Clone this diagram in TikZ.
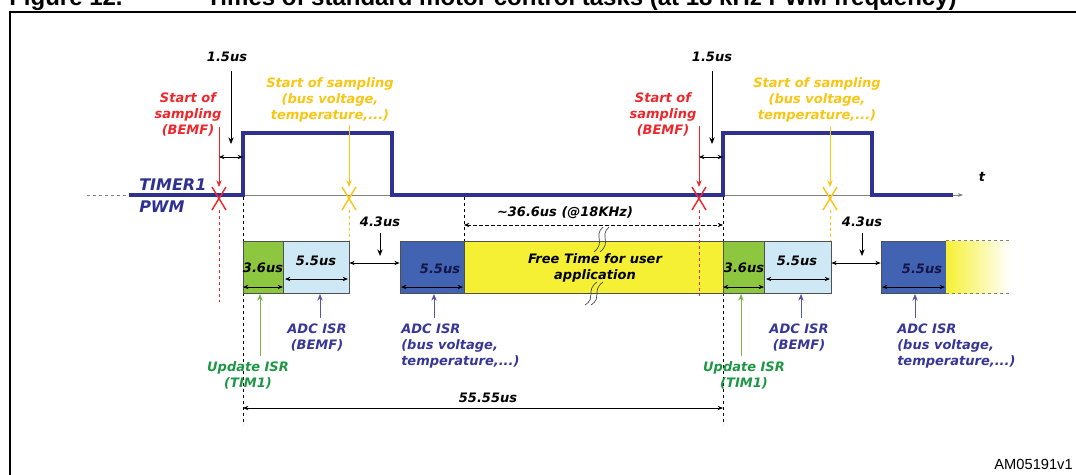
\documentclass[tikz,border=0pt]{standalone}
\usepackage{fontspec}
\setmainfont{DejaVu Sans}[BoldFont={DejaVu Sans Bold},ItalicFont={DejaVu Sans Oblique},BoldItalicFont={DejaVu Sans Bold Oblique}]
\newfontfamily\arialf{Liberation Sans}
\usetikzlibrary{arrows.meta,fit}
\definecolor{navy}{RGB}{46,49,146}
\definecolor{sred}{RGB}{237,40,45}
\definecolor{syel}{RGB}{250,198,20}
\definecolor{gbox}{RGB}{141,198,63}
\definecolor{lbbox}{RGB}{206,233,245}
\definecolor{dbbox}{RGB}{66,98,178}
\definecolor{ybox}{RGB}{246,240,52}
\definecolor{gtxt}{RGB}{30,150,70}
\definecolor{garr}{RGB}{120,180,70}
\definecolor{btxt}{RGB}{55,55,150}
\definecolor{barr}{RGB}{85,85,175}
\definecolor{dbtxt}{RGB}{20,22,70}
\begin{document}
\begin{tikzpicture}[x=0.75pt,y=-0.75pt,
  lbl/.style={font=\fontsize{9.75}{12}\selectfont\bfseries\itshape, align=center, inner sep=0pt},
  box/.style={draw={rgb,255:red,80;green,80;blue,80}, line width=0.5pt, inner sep=0pt},
  pwm/.style={draw=navy, line width=3pt, line join=miter, line cap=butt},
  dimarr/.style={{Stealth[length=4pt,width=3.2pt]}-{Stealth[length=4pt,width=3.2pt]}, line width=0.6pt, black},
  downarr/.style={-{Stealth[length=5pt,width=4pt]}, line width=0.6pt},
  vdash/.style={dash pattern=on 2.5pt off 2pt, line width=0.5pt},
  xmark/.style={line width=1.1pt}
]
\clip (0,0) rectangle (1076,475);
\fill[white] (0,0) rectangle (1076,475);

% title (cut off by page top) and frame
\node[anchor=base west, inner sep=0pt, font=\arialf\bfseries\fontsize{18}{20}\selectfont] (fig) at (9,5.5) {Figure 12.};
\node[anchor=base west, inner sep=0pt, font=\arialf\bfseries\fontsize{18}{20}\selectfont] (ttl) at (206,5.5) {Times of standard motor control tasks (at 18 kHz PWM frequency)};
\draw[line width=1.6pt] (10,500) -- (10,12) -- (1100,12);

% timeline base
\coordinate (b0) at (87,195);
\coordinate (b1) at (129,195);
\coordinate (bend) at (963,195);
\draw[vdash, gray] (b0) -- (b1);
\draw[gray, line width=0.5pt, -{Stealth[length=4pt,width=3pt]}] (b1) -- (bend);

% PWM waveform
\coordinate (p0) at (129,195);
\coordinate (p1) at (243,195);
\coordinate (p2) at (243,133);
\coordinate (p3) at (392,133);
\coordinate (p4) at (392,195);
\coordinate (p5) at (723,195);
\coordinate (p6) at (723,133);
\coordinate (p7) at (872,133);
\coordinate (p8) at (872,195);
\coordinate (p9) at (953,195);
\draw[pwm] (p0) -- (p1) -- (p2) -- (p3) -- (p4) -- (p5) -- (p6) -- (p7) -- (p8) -- (p9);

\node[font=\fontsize{12}{14}\selectfont\bfseries\itshape, text=navy, anchor=west, inner sep=0pt] (tmr) at (139,185) {TIMER1};
\node[font=\fontsize{12}{14}\selectfont\bfseries\itshape, text=navy, anchor=west, inner sep=0pt] (pwmt) at (139,207) {PWM};
\node[lbl] (tt) at (982,177) {t};

% vertical dashed guides
\coordinate (v1t) at (243,197); \coordinate (v1b) at (243,425);
\coordinate (v2t) at (464,197); \coordinate (v2b) at (464,241);
\coordinate (v3t) at (723,197); \coordinate (v3b) at (723,425);
\draw[vdash] (v1t) -- (v1b);
\draw[vdash] (v2t) -- (v2b);
\draw[vdash] (v3t) -- (v3b);

% boxes
\node[box, fill=gbox, fit={(243,241)(283,293)}] (g1) {};
\node[box, fill=lbbox, fit={(283,241)(349,293)}] (lb1) {};
\node[box, fill=dbbox, fit={(400,241)(464,293)}] (db1) {};
\node[box, fill=ybox, fit={(464,241)(723,293)}] (yb) {};
\node[box, fill=gbox, fit={(723,241)(764,293)}] (g2) {};
\node[box, fill=lbbox, fit={(764,241)(831,293)}] (lb2) {};
\node[box, fill=dbbox, fit={(881,241)(946,293)}] (db2) {};
\shade[left color=ybox, right color=white] (946,241) rectangle (1010,293);
\node[inner sep=0pt, fit={(946,241)(1010,293)}] (yfade) {};
\draw[vdash, gray] (yfade.north west) -- (yfade.north east);
\draw[vdash, gray] (yfade.south west) -- (yfade.south east);

% red BEMF sampling
\node[lbl, text=sred] (r1) at (188,114) {Start of\\sampling\\(BEMF)};
\node[lbl, text=sred] (r2) at (663,114) {Start of\\sampling\\(BEMF)};
\coordinate (r1a) at (219,127); \coordinate (r1x) at (219,187); \coordinate (r1d) at (219,210); \coordinate (r1e) at (219,302);
\coordinate (r2a) at (699,126); \coordinate (r2x) at (699,187); \coordinate (r2d) at (699,210); \coordinate (r2e) at (699,296);
\draw[downarr, sred] (r1a) -- (r1x);
\draw[downarr, sred] (r2a) -- (r2x);
\draw[vdash, sred] (r1d) -- (r1e);
\draw[vdash, sred] (r2d) -- (r2e);
\draw[xmark, sred] (212,187) -- (226,210) (226,187) -- (212,210);
\draw[xmark, sred] (692,187) -- (706,210) (706,187) -- (692,210);

% yellow sampling
\node[lbl, text=syel] (y1) at (330,100) {Start of sampling\\(bus voltage,\\temperature,...)};
\node[lbl, text=syel] (y2) at (817,100) {Start of sampling\\(bus voltage,\\temperature,...)};
\coordinate (y1a) at (349,125); \coordinate (y1x) at (349,187); \coordinate (y1d) at (349,210); \coordinate (y1e) at (349,241);
\coordinate (y2a) at (830,127); \coordinate (y2x) at (830,187); \coordinate (y2d) at (830,210); \coordinate (y2e) at (830,241);
\draw[downarr, syel] (y1a) -- (y1x);
\draw[downarr, syel] (y2a) -- (y2x);
\draw[vdash, syel] (y1d) -- (y1e);
\draw[vdash, syel] (y2d) -- (y2e);
\draw[xmark, syel] (342,187) -- (356,210) (356,187) -- (342,210);
\draw[xmark, syel] (823,187) -- (837,210) (837,187) -- (823,210);

% 1.5us
\node[lbl] (d1) at (227,57) {1.5us};
\node[lbl] (d2) at (712,57) {1.5us};
\coordinate (d1a) at (231,71); \coordinate (d1b) at (231,144);
\coordinate (d2a) at (712,71); \coordinate (d2b) at (712,144);
\draw[downarr] (d1a) -- (d1b);
\draw[downarr] (d2a) -- (d2b);
\coordinate (h1a) at (219,157); \coordinate (h1b) at (243,157);
\coordinate (h2a) at (699,157); \coordinate (h2b) at (723,157);
\draw[dimarr] (h1a) -- (h1b);
\draw[dimarr] (h2a) -- (h2b);

% box texts and dimension arrows
\node[lbl] (t36a) at (263,268) {3.6us};
\node[lbl] (t55a) at (316,261) {5.5us};
\node[lbl, text=dbtxt] (t55b) at (440,269) {5.5us};
\node[lbl] (t36b) at (744,268) {3.6us};
\node[lbl] (t55c) at (797,261) {5.5us};
\node[lbl, text=dbtxt] (t55d) at (922,269) {5.5us};
\draw[dimarr] (243,287) -- (283,287);
\draw[dimarr] (285,279) -- (348,279);
\draw[dimarr] (401,287) -- (463,287);
\draw[dimarr] (723,287) -- (764,287);
\draw[dimarr] (766,279) -- (830,279);
\draw[dimarr] (882,287) -- (945,287);

% 4.3us
\node[lbl] (f1) at (380,222) {4.3us};
\node[lbl] (f2) at (862,222) {4.3us};
\draw[downarr] (380,233) -- (380,256);
\draw[downarr] (862,233) -- (862,256);
\draw[dimarr] (lb1.east |- 0,263) -- (db1.west |- 0,263);
\draw[dimarr] (lb2.east |- 0,263) -- (db2.west |- 0,263);

% free time
\node[lbl, font=\fontsize{9.75}{11.5}\selectfont\bfseries\itshape] (free) at (595,268) {Free Time for user\\application};
\node[lbl] (t366) at (565,213) {\textasciitilde36.6us (@18KHz)};
\draw[dimarr, vdash] (v2t |- 0,225) -- (v3t |- 0,225);
\draw[line width=0.5pt, black!75] (603,227) .. controls (593,236) and (606,242) .. (594,252);
\draw[line width=0.5pt, black!75] (609,227) .. controls (599,236) and (612,242) .. (600,252);
\draw[line width=0.5pt, black!75] (597,282) .. controls (585,291) and (597,297) .. (585,305);
\draw[line width=0.5pt, black!75] (603,282) .. controls (591,291) and (603,297) .. (591,305);

% bottom labels
\node[lbl, text=gtxt] (u1) at (248,375) {Update ISR\\(TIM1)};
\node[lbl, text=gtxt] (u2) at (744,375) {Update ISR\\(TIM1)};
\node[lbl, text=btxt] (a1) at (317,338) {ADC ISR\\(BEMF)};
\node[lbl, text=btxt] (a2) at (799,338) {ADC ISR\\(BEMF)};
\node[lbl, text=btxt, align=left, anchor=west] (a3) at (401,346) {ADC ISR\\(bus voltage,\\temperature,...)};
\node[lbl, text=btxt, align=left, anchor=west] (a4) at (897,346) {ADC ISR\\(bus voltage,\\temperature,...)};
\draw[downarr, garr] (260,356) -- (260,294);
\draw[downarr, garr] (741,356) -- (741,294);
\draw[downarr, barr] (320,318) -- (320,294);
\draw[downarr, barr] (801,318) -- (801,294);
\draw[downarr, barr] (434,318) -- (434,294);
\draw[downarr, barr] (915,318) -- (915,294);

% 55.55us
\node[lbl] (tot) at (488,398) {55.55us};
\draw[dimarr] (v1t |- 0,408) -- (v3t |- 0,408);

\node[anchor=base east, inner sep=0pt, font=\arialf\fontsize{11}{13}\selectfont] (am) at (1073,469) {AM05191v1};
\end{tikzpicture}
\end{document}
